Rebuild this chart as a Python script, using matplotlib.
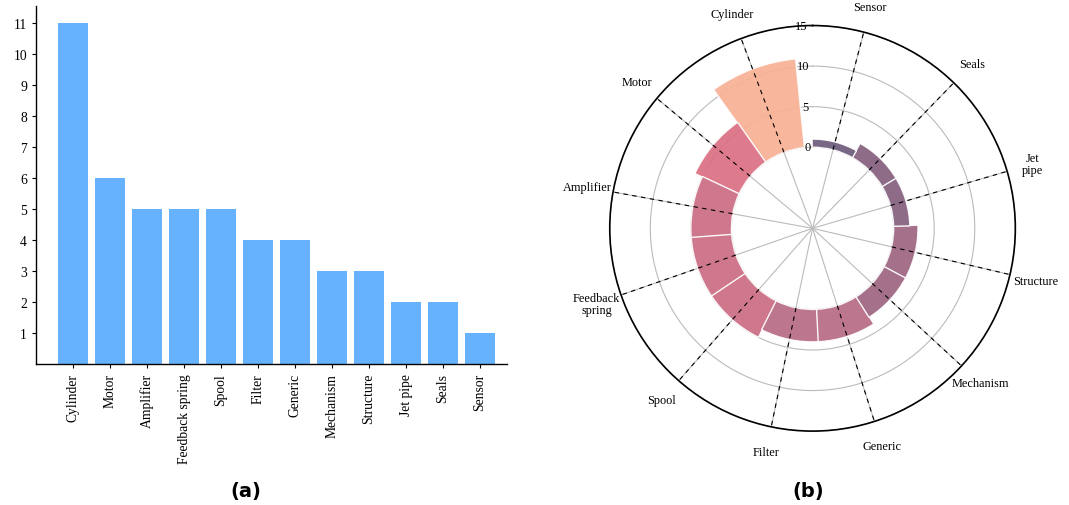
import numpy as np
import matplotlib
matplotlib.use("Agg")
import matplotlib.pyplot as plt
import matplotlib as mpl

# Failure counts per component
categories = ["Cylinder", "Motor", "Amplifier", "Feedback spring", "Spool", "Filter",
              "Generic", "Mechanism", "Structure", "Jet pipe", "Seals", "Sensor"]
counts = [11, 6, 5, 5, 5, 4, 4, 3, 3, 2, 2, 1]
polar_labels = ["Cylinder", "Motor", "Amplifier", "Feedback\nspring", "Spool", "Filter",
                "Generic", "Mechanism", "Structure", "Jet\npipe", "Seals", "Sensor"]
bar_yticks = list(range(1, 12))
radial_ticks = [0, 5, 10, 15]

SERIF = "Liberation Serif"
plt.rcParams["font.family"] = [SERIF, "DejaVu Serif"]

fig = plt.figure(figsize=(10.69, 5.06), dpi=100)

# ---------- (a) bar chart ----------
ax1 = fig.add_axes([0.0337, 0.2787, 0.4406, 0.7075])
x = np.arange(len(categories))
ax1.bar(x, counts, width=0.8, color="#66b2ff")
ax1.set_xlim(-1.0, len(categories) - 0.27)
ax1.set_ylim(0, 11.55)
ax1.set_yticks(bar_yticks)
ax1.set_xticks(x)
ax1.set_xticklabels(categories, rotation=90, fontsize=9.8)
ax1.tick_params(axis="y", labelsize=9.8, length=3, width=0.8)
ax1.tick_params(axis="x", length=3, width=0.8)
for s in ["top", "right"]:
    ax1.spines[s].set_visible(False)
for s in ["left", "bottom"]:
    ax1.spines[s].set_linewidth(1.0)

# ---------- (b) circular bar chart ----------
ax2 = fig.add_axes([0.5704, 0.1460, 0.3794, 0.8016], projection="polar")
ax2.set_theta_offset(np.pi / 2)
start = 0.36
angles = np.linspace(start, start + 2 * np.pi - 0.1, len(categories), endpoint=False)

cmap = mpl.colors.LinearSegmentedColormap.from_list(
    "pal", ["#6C5B7B", "#C06C84", "#F67280", "#F8B195"], N=256)
norm = mpl.colors.Normalize(vmin=min(counts), vmax=max(counts))
colors = cmap(norm(counts))

ax2.set_ylim(-10, 15)
ax2.bar(angles, counts, width=0.52, color=colors, alpha=0.92,
        edgecolor="white", linewidth=1.0, zorder=10)
ax2.vlines(angles, 0, 15, color="black", ls=(0, (4, 4)), lw=0.8, zorder=11)

ax2.set_xticks(angles)
ax2.set_xticklabels([])
ax2.set_yticks(radial_ticks)
ax2.set_yticklabels([])
ax2.grid(True, color="#bbbbbb", lw=0.8)
ax2.tick_params(length=0)
ax2.spines["polar"].set_linewidth(1.2)
ax2.spines["polar"].set_color("black")

for r in radial_ticks:
    ax2.text(0.058, r, str(r), ha="center", va="center", fontsize=9, zorder=12)

for ang, lab in zip(angles, polar_labels):
    ax2.text(ang, 18.2, lab, ha="center", va="center", fontsize=8.8,
             linespacing=1.0, clip_on=False)

# panel labels
fig.text(246 / 1069, 1 - 492 / 506, "(a)", ha="center", va="center",
         fontsize=14, fontweight="bold", family="DejaVu Sans")
fig.text(808 / 1069, 1 - 492 / 506, "(b)", ha="center", va="center",
         fontsize=14, fontweight="bold", family="DejaVu Sans")

fig.savefig("out.png", dpi=100)
